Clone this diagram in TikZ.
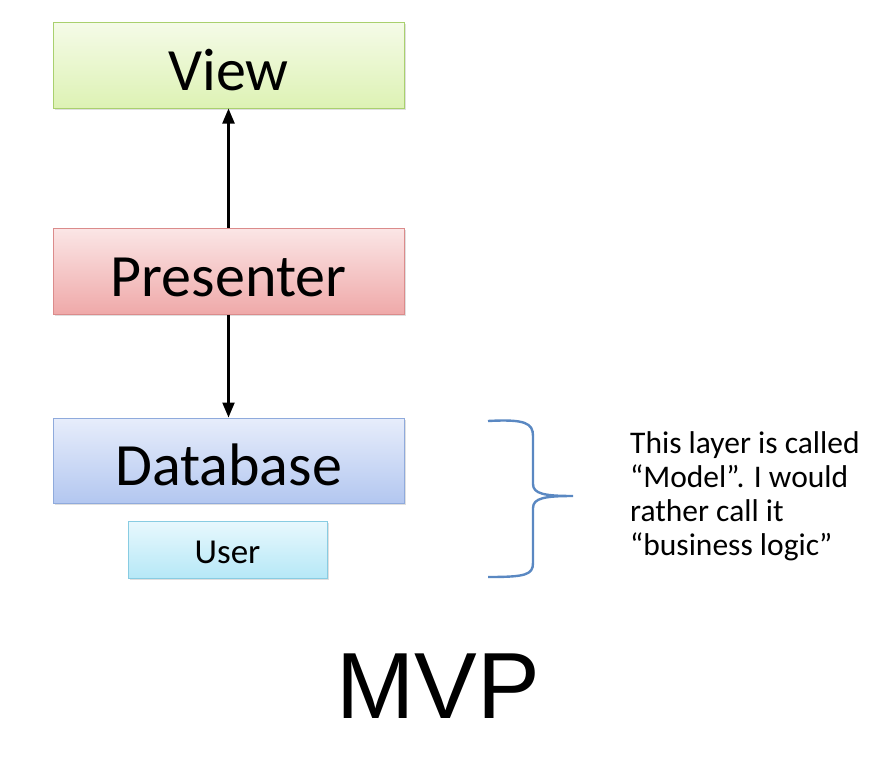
\documentclass[tikz,border=0pt]{standalone}
\usepackage{fontspec}
\setmainfont{Carlito}
\newfontfamily\helv{Liberation Sans}
\usetikzlibrary{shadows,arrows.meta}
\definecolor{viewtop}{HTML}{F5FBE8}
\definecolor{viewbot}{HTML}{DDF2B4}
\definecolor{viewbd}{HTML}{A9D06E}
\definecolor{prestop}{HTML}{FBE6E6}
\definecolor{presbot}{HTML}{EFA9A9}
\definecolor{presbd}{HTML}{DB8B8B}
\definecolor{dbtop}{HTML}{E7EDFB}
\definecolor{dbbot}{HTML}{B3C7F0}
\definecolor{dbbd}{HTML}{8FAADC}
\definecolor{usrtop}{HTML}{E8F8FD}
\definecolor{usrbot}{HTML}{B6E8F7}
\definecolor{usrbd}{HTML}{88CCE2}
\definecolor{bracec}{HTML}{5A88C2}
\tikzset{
  layerbox/.style={draw, line width=1pt, minimum width=351pt, minimum height=86pt, inner sep=0pt,
    drop shadow={shadow xshift=1.5pt, shadow yshift=-1.5pt, opacity=0.25}},
  bigtext/.style={font=\fontsize{60}{66}\selectfont, inner sep=0pt, anchor=base},
  link/.style={-{Triangle[length=15pt,width=12pt]}, line width=2.2pt}
}
\begin{document}
\begin{tikzpicture}[x=1pt,y=-1pt]
\useasboundingbox (0,0) rectangle (878,782);
\node[layerbox, top color=viewtop, bottom color=viewbot, draw=viewbd] (view) at (228.5,65) {};
\node[layerbox, top color=prestop, bottom color=presbot, draw=presbd] (pres) at (228.5,271) {};
\node[layerbox, top color=dbtop, bottom color=dbbot, draw=dbbd, minimum height=85pt] (db) at (228.5,460.5) {};
\node[layerbox, top color=usrtop, bottom color=usrbot, draw=usrbd, minimum width=199pt, minimum height=57pt] (user) at (227.5,549.5) {};
\node[bigtext] (viewt) at ([yshift=-25pt]view.center) {View};
\node[bigtext] (prest) at ([yshift=-25pt]pres.center) {Presenter};
\node[bigtext] (dbt) at ([yshift=-25pt]db.center) {Database};
\node[bigtext, font=\fontsize{35}{40}\selectfont] (usert) at ([yshift=-14pt]user.center) {User};
\draw[link] (pres.north) -- (view.south);
\draw[link] (pres.south) -- (db.north);
\coordinate (bt) at (488,421);
\coordinate (bm) at (573,496);
\coordinate (bb) at (488,577);
\draw[bracec, line width=2.4pt] (bt) .. controls (525,419) and (533,423) .. (533,436)
  -- (533,484) .. controls (533,494) and (545,496) .. (bm)
  .. controls (545,496) and (533,498) .. (533,508)
  -- (533,563) .. controls (533,575) and (525,577) .. (bb);
\node[anchor=base west, align=left, inner sep=0pt, font=\fontsize{31.5}{34}\selectfont] (note) at (630,555)
  {This layer is called\\“Model”. I would\\rather call it\\“business logic”};
\node[font=\helv\fontsize{94}{100}\selectfont, inner sep=0pt, anchor=base] (title) at (438.5,718) {MVP};
\end{tikzpicture}
\end{document}
